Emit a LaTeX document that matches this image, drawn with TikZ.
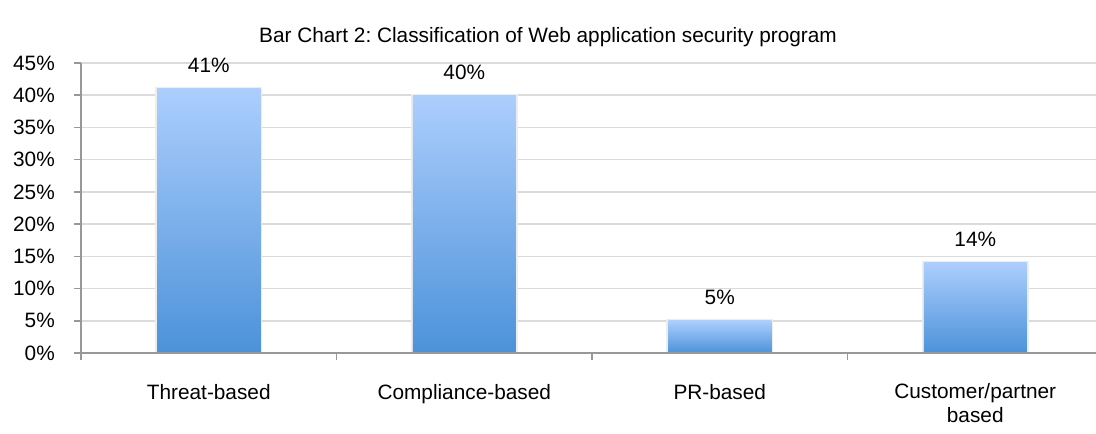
\documentclass[tikz,border=0pt]{standalone}
\usepackage{fontspec}
\setmainfont{Liberation Sans}
\usepackage{tikz}
\usetikzlibrary{calc}
\frenchspacing

\definecolor{bartop}{RGB}{172,206,253}
\definecolor{barbot}{RGB}{76,146,217}
\definecolor{gridgray}{RGB}{219,219,219}
\definecolor{axisgray}{RGB}{152,152,152}

% one percent point and one category, in px
\newcommand{\pct}{6.444}
\newcommand{\catw}{255.5}

\begin{document}
\begin{tikzpicture}[x=1pt, y=1pt, font=\fontsize{20.8}{24}\selectfont,
  gridline/.style={gridgray, line width=1.6pt},
  axisline/.style={axisgray, line width=1.6pt},
  barshade/.style={top color=bartop, bottom color=barbot}]
\useasboundingbox (-81,-81) rectangle (1015,353);

% title
\node[anchor=base] (title) at (467,310) {Bar Chart 2: Classification of Web application security program};

% grid lines, y ticks and labels
\foreach \p in {0,5,...,45} {
  \draw[gridline] (0,\p*\pct) -- (1015,\p*\pct);
  \draw[axisline] (-7,\p*\pct) -- (0,\p*\pct);
  \node[anchor=east, inner sep=0pt] (y\p) at (-26,\p*\pct) {\p\%};
}

% bars with values
\foreach \v [count=\i from 0] in {41,40,5,14} {
  \coordinate (c\i) at ({(\i+0.5)*\catw},0);
  \fill[black!7] ($(c\i)+(-53.5,0)$) rectangle ($(c\i)+(53.5,\v*\pct+1.5)$);
  \shade[barshade] ($(c\i)+(-51.5,0)$) rectangle ($(c\i)+(51.5,\v*\pct)$);
  \node[anchor=base] (v\i) at ($(c\i)+(0,\v*\pct+16)$) {\v\%};
}

% axes
\draw[axisline] (0,0) -- (1015,0);
\draw[axisline] (0,0) -- (0,45*\pct);
\foreach \i in {0,...,3}
  \draw[axisline] (\i*\catw,0) -- (\i*\catw,-7);

% category labels
\node[anchor=base] (t0) at ($(c0)+(0,-47)$) {Threat-based};
\node[anchor=base] (t1) at ($(c1)+(0,-47)$) {Compliance-based};
\node[anchor=base] (t2) at ($(c2)+(0,-47)$) {PR-based};
\node[anchor=base, align=center] (t3) at ($(c3)+(0,-70)$) {Customer/partner\\based};
\end{tikzpicture}
\end{document}
